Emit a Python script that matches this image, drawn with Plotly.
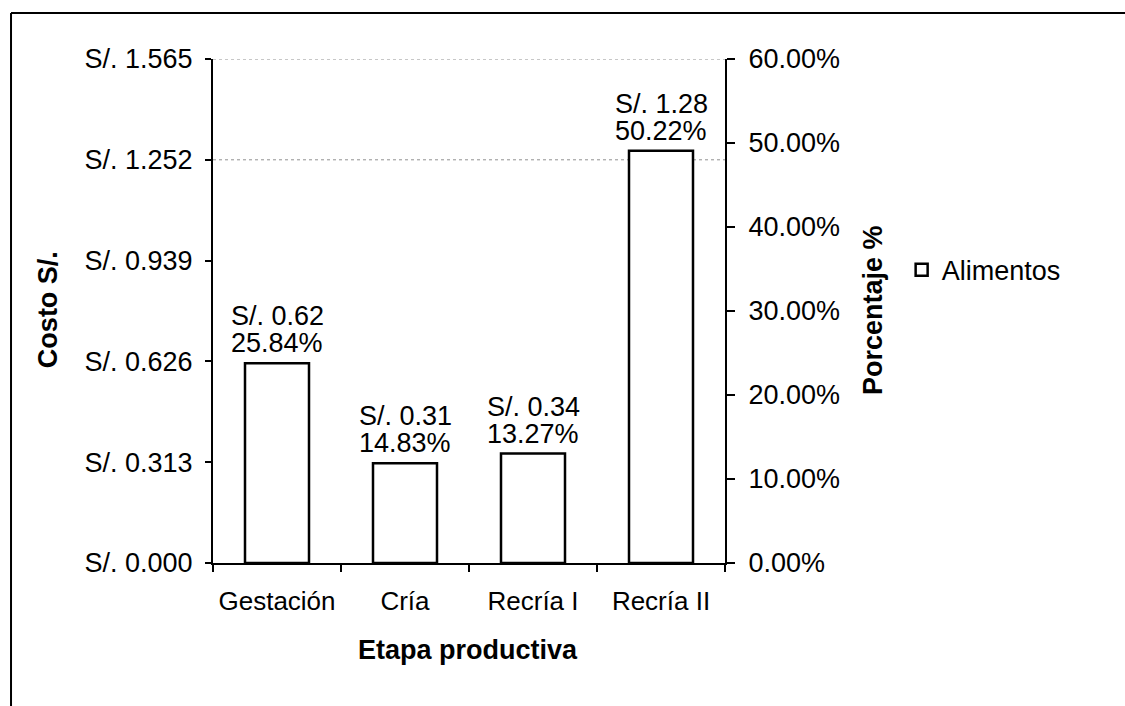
import plotly.graph_objects as go

categorias = ["Gestación", "Cría", "Recría I", "Recría II"]
costos = [0.62, 0.31, 0.34, 1.28]
porcentajes = [25.84, 14.83, 13.27, 50.22]
serie = "Alimentos"

y_ticks = [0.0, 0.313, 0.626, 0.939, 1.252, 1.565]
y_ticktext = ["S/. %.3f" % v for v in y_ticks]
y2_ticks = [0.0, 0.1, 0.2, 0.3, 0.4, 0.5, 0.6]

FONT = "Liberation Sans, Arial, sans-serif"
FS = 27

fig = go.Figure()
fig.add_trace(go.Bar(
    x=categorias, y=costos, name=serie,
    marker=dict(color="white", line=dict(color="black", width=2.5)),
    yaxis="y", cliponaxis=False, showlegend=True,
))
# invisible trace to hold the secondary axis
fig.add_trace(go.Scatter(
    x=categorias, y=[p / 100 for p in porcentajes], yaxis="y2",
    mode="markers", marker=dict(opacity=0), showlegend=False, hoverinfo="skip",
))

annotations = []
for c, v, p in zip(categorias, costos, porcentajes):
    annotations.append(dict(x=c, y=v, xref="x", yref="y", text="S/. %.2f" % v,
                            showarrow=False, yanchor="middle", yshift=47,
                            font=dict(family=FONT, size=FS, color="black")))
    annotations.append(dict(x=c, y=v, xref="x", yref="y", text="%.2f%%" % p,
                            showarrow=False, yanchor="middle", yshift=20,
                            font=dict(family=FONT, size=FS, color="black")))

annotations += [
    dict(text="<b>Costo S/.</b>", x=-0.322, y=0.502, xref="paper", yref="paper",
         xanchor="center", yanchor="middle",
         textangle=-90, showarrow=False, font=dict(family=FONT, size=FS, color="black")),
    dict(text="<b>Porcentaje %</b>", x=1.289, y=0.502, xref="paper", yref="paper",
         xanchor="center", yanchor="middle",
         textangle=-90, showarrow=False, font=dict(family=FONT, size=FS, color="black")),
    dict(text="<b>Etapa productiva</b>", x=0.498, y=-0.1726, xref="paper", yref="paper",
         xanchor="center", yanchor="middle",
         showarrow=False, font=dict(family=FONT, size=FS, color="black")),
]

shapes = [
    # outer frame (top and left edges)
    dict(type="line", xref="paper", yref="paper", x0=-0.3945, x1=1.79, y0=1.0913, y1=1.0913,
         line=dict(color="black", width=2)),
    dict(type="line", xref="paper", yref="paper", x0=-0.3945, x1=-0.3945, y0=1.0913, y1=-0.3,
         line=dict(color="black", width=2)),
]
for gv in y_ticks[-2:]:
    shapes.append(dict(type="line", xref="paper", yref="y", x0=0, x1=1, y0=gv, y1=gv,
                       line=dict(color="#909090", width=1, dash="dot"), layer="below"))

fig.update_layout(
    width=1125, height=706,
    margin=dict(l=213, r=400, t=59, b=143),
    paper_bgcolor="white", plot_bgcolor="white",
    font=dict(family=FONT, size=FS, color="black"),
    bargap=0.5,
    xaxis=dict(
        type="category", showline=True, linecolor="black", linewidth=2,
        ticks="outside", ticklen=7, tickwidth=2, tickcolor="black", tickson="boundaries",
        showgrid=False, tickfont=dict(family=FONT, size=26), ticklabelstandoff=14,
        tickangle=0,
    ),
    yaxis=dict(
        range=[0, 1.565], tickvals=y_ticks, ticktext=y_ticktext,
        showline=True, linecolor="black", linewidth=2,
        ticks="outside", ticklen=6, tickwidth=2, tickcolor="black",
        showgrid=False, zeroline=False, tickfont=dict(family=FONT, size=FS),
        ticklabelstandoff=7,
    ),
    yaxis2=dict(
        range=[0, 0.6], tickvals=y2_ticks, tickformat=".2%", overlaying="y", side="right",
        showline=True, linecolor="black", linewidth=2,
        ticks="outside", ticklen=8, tickwidth=2, tickcolor="black",
        showgrid=False, zeroline=False, tickfont=dict(family=FONT, size=FS),
        ticklabelstandoff=8,
    ),
    legend=dict(x=1.345, y=0.581, xanchor="left", yanchor="middle",
                font=dict(family=FONT, size=FS), itemwidth=30, bgcolor="rgba(0,0,0,0)"),
    annotations=annotations, shapes=shapes,
)

fig.write_html("out.html")
